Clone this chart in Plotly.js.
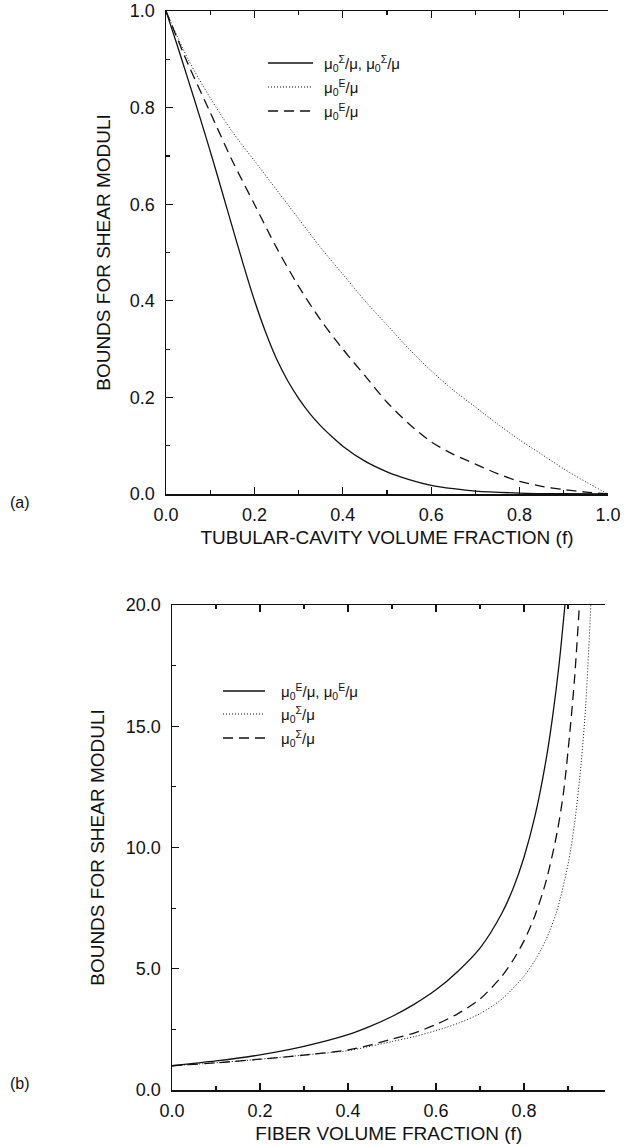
<!DOCTYPE html>
<html>
<head>
<meta charset="utf-8">
<script src="https://cdn.plot.ly/plotly-3.0.1.min.js"></script>
<style>html,body{margin:0;padding:0;background:#fff;}</style>
</head>
<body>
<div id="chart" style="width:626px;height:1147px;"></div>
<script>
// ---- Panel (a): tubular cavities ----
const topSolidX = [0,0.025,0.05,0.075,0.1,0.125,0.15,0.175,0.2,0.225,0.25,0.275,0.3,0.325,0.35,0.375,0.4,0.45,0.5,0.55,0.6,0.65,0.7,0.8,0.9,1.0];
const topSolid  = [1,0.93,0.858,0.785,0.71,0.632,0.553,0.475,0.401,0.336,0.28,0.235,0.198,0.167,0.141,0.119,0.099,0.068,0.046,0.030,0.018,0.011,0.006,0.002,0.0005,0];
const topX      = [0,0.05,0.1,0.15,0.2,0.25,0.3,0.35,0.4,0.45,0.5,0.55,0.6,0.65,0.7,0.75,0.8,0.85,0.9,0.95,1.0];
const topDotted = [1,0.90,0.82,0.75,0.69,0.63,0.57,0.51,0.455,0.40,0.35,0.30,0.255,0.215,0.18,0.145,0.112,0.082,0.052,0.025,0];
const topDashed = [1,0.89,0.79,0.69,0.60,0.51,0.43,0.36,0.30,0.245,0.19,0.145,0.108,0.082,0.062,0.042,0.026,0.016,0.009,0.004,0];

// ---- Panel (b): fibers ----
const botSolidX  = [0,0.1,0.2,0.3,0.4,0.45,0.5,0.55,0.6,0.65,0.7,0.75,0.775,0.8,0.825,0.85,0.865,0.88,0.893];
const botSolidY  = [1.0,1.2,1.45,1.8,2.28,2.62,3.03,3.53,4.13,4.9,5.85,7.3,8.3,9.6,11.3,13.6,15.4,17.6,20];
const botDottedX = [0,0.1,0.2,0.3,0.4,0.45,0.5,0.55,0.6,0.65,0.7,0.75,0.8,0.825,0.85,0.875,0.9,0.915,0.93,0.94,0.952];
const botDottedY = [1.0,1.12,1.27,1.44,1.62,1.8,2.0,2.2,2.45,2.75,3.15,3.75,4.7,5.35,6.2,7.4,9.3,11.0,13.5,15.8,20];
const botDashedX = [0,0.1,0.2,0.3,0.4,0.45,0.5,0.55,0.6,0.65,0.7,0.75,0.775,0.8,0.825,0.85,0.875,0.89,0.905,0.915,0.926];
const botDashedY = [1.0,1.12,1.27,1.44,1.65,1.85,2.1,2.35,2.7,3.15,3.75,4.7,5.35,6.15,7.2,8.6,10.6,12.3,14.9,17.0,20];

// ---- Text ----
const topXTitle = 'TUBULAR-CAVITY VOLUME FRACTION (f)';
const botXTitle = 'FIBER VOLUME FRACTION (f)';
const yTitle = 'BOUNDS FOR SHEAR MODULI';
const topLegend = ['μ<sub>0</sub><sup>Σ</sup>/μ, μ<sub>0</sub><sup>Σ</sup>/μ','μ<sub>0</sub><sup>E</sup>/μ','μ<sub>0</sub><sup>E</sup>/μ'];
const botLegend = ['μ<sub>0</sub><sup>E</sup>/μ, μ<sub>0</sub><sup>E</sup>/μ','μ<sub>0</sub><sup>Σ</sup>/μ','μ<sub>0</sub><sup>Σ</sup>/μ'];
const panelLabels = ['(a)','(b)'];

const W = 626, H = 1147;
const px = v => v / W;
const py = v => 1 - v / H;
const FONT = 'Liberation Sans, Arial, Helvetica, sans-serif';
const INK = '#111';

const styles = {
  solid:  {color: INK, width: 1.3, dash: 'solid'},
  dotted: {color: INK, width: 1.0, dash: '1px,2px'},
  dashed: {color: INK, width: 1.3, dash: '10px,6px'}
};

function tr(x, y, st, xa, ya) {
  return {x: x, y: y, type: 'scatter', mode: 'lines', xaxis: xa, yaxis: ya,
          line: Object.assign({shape: 'spline', smoothing: 0.8}, st), hoverinfo: 'skip'};
}

const data = [
  tr(topSolidX, topSolid, styles.solid,  'x', 'y'),
  tr(topX, topDotted, styles.dotted, 'x', 'y'),
  tr(topX, topDashed, styles.dashed, 'x', 'y'),
  tr(botSolidX,  botSolidY,  styles.solid,  'x2', 'y2'),
  tr(botDottedX, botDottedY, styles.dotted, 'x2', 'y2'),
  tr(botDashedX, botDashedY, styles.dashed, 'x2', 'y2')
];

function axisBase(extra) {
  return Object.assign({
    showline: true, linecolor: INK, linewidth: 1.5,
    ticks: 'inside', ticklen: 7, tickwidth: 1.2, tickcolor: INK,
    showgrid: false, zeroline: false, tickformat: '.1f',
    tickfont: {family: FONT, size: 18, color: INK},
    fixedrange: true
  }, extra);
}
const titleFont = {family: FONT, size: 19, color: INK};

const layout = {
  width: W, height: H,
  margin: {l: 0, r: 0, t: 0, b: 0},
  paper_bgcolor: '#fff', plot_bgcolor: '#fff',
  showlegend: false,
  font: {family: FONT, color: INK},
  xaxis: axisBase({domain: [px(166), px(608)], range: [0, 1], dtick: 0.2, anchor: 'y',
    mirror: 'ticks', minor: {dtick: 0.1, ticklen: 4, ticks: 'inside', tickcolor: INK},
    ticklabelstandoff: 4,
    title: {text: topXTitle, font: titleFont, standoff: 6}}),
  yaxis: axisBase({domain: [py(494), py(11)], range: [0, 1], dtick: 0.2, anchor: 'x',
    minor: {dtick: 0.1, ticklen: 4, ticks: 'inside', tickcolor: INK},
    ticklabelstandoff: 6,
    title: {text: yTitle, font: titleFont, standoff: 14}}),
  xaxis2: axisBase({domain: [px(172), px(605.4)], range: [0, 0.985], dtick: 0.2, anchor: 'y2',
    mirror: 'ticks', minor: {dtick: 0.1, ticklen: 4, ticks: 'inside', tickcolor: INK},
    ticklabelstandoff: 4,
    title: {text: botXTitle, font: titleFont, standoff: 6}}),
  yaxis2: axisBase({domain: [py(1090), py(605)], range: [0, 20], dtick: 5, anchor: 'x2',
    minor: {dtick: 2.5, ticklen: 4, ticks: 'inside', tickcolor: INK},
    ticklabelstandoff: 6,
    title: {text: yTitle, font: titleFont, standoff: 16}}),
  shapes: [],
  annotations: []
};

// legends drawn as sample lines + text
const legStyles = [styles.solid, styles.dotted, styles.dashed];
const topLegY = [63, 87, 111];
const botLegY = [691, 714, 738];
function addLegend(labels, ys, x0, x1, tx) {
  labels.forEach((lab, i) => {
    const st = legStyles[i];
    layout.shapes.push({type: 'line', xref: 'paper', yref: 'paper',
      x0: px(x0), x1: px(x1), y0: py(ys[i]), y1: py(ys[i]),
      line: {color: st.color, width: st.width, dash: st.dash}});
    layout.annotations.push({xref: 'paper', yref: 'paper', x: px(tx), y: py(ys[i]),
      xanchor: 'left', yanchor: 'middle', showarrow: false, text: lab,
      font: {family: FONT, size: 15, color: INK}});
  });
}
addLegend(topLegend, topLegY, 268, 313, 322);
addLegend(botLegend, botLegY, 223, 265, 279);

layout.annotations.push({xref: 'paper', yref: 'paper', x: px(8), y: py(502), xanchor: 'left', yanchor: 'middle',
  showarrow: false, text: panelLabels[0], font: {family: FONT, size: 16, color: INK}});
layout.annotations.push({xref: 'paper', yref: 'paper', x: px(8), y: py(1083), xanchor: 'left', yanchor: 'middle',
  showarrow: false, text: panelLabels[1], font: {family: FONT, size: 16, color: INK}});

Plotly.newPlot('chart', data, layout, {staticPlot: true, displayModeBar: false});
</script>
</body>
</html>
